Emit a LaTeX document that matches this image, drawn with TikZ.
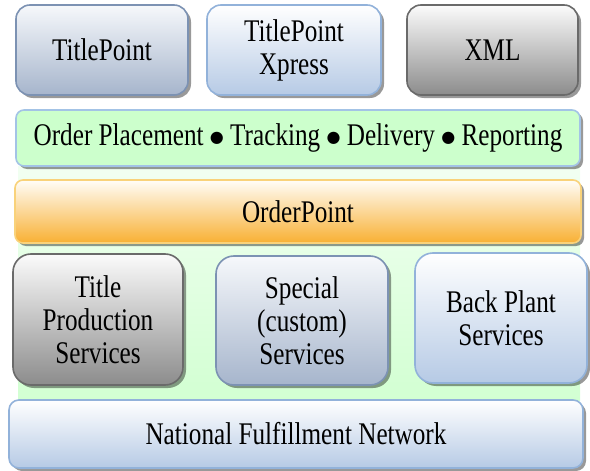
\documentclass[tikz,border=0pt]{standalone}
\usepackage{fontspec}
\setmainfont{Liberation Serif}[FakeStretch=0.8]
\newfontfamily\symf{DejaVu Sans}
\usetikzlibrary{shadows}
\definecolor{bgTop}{HTML}{F2FFF2}
\definecolor{bgBot}{HTML}{D2FFD2}
\definecolor{bgTopB}{HTML}{F6F8FB}
\definecolor{bgBotB}{HTML}{A6B5CC}
\definecolor{brdB}{HTML}{7C92B3}
\definecolor{lbTop}{HTML}{FFFFFF}
\definecolor{lbBot}{HTML}{B6CAE5}
\definecolor{brdL}{HTML}{92B2DA}
\definecolor{gyTop}{HTML}{FBFBFB}
\definecolor{gyBot}{HTML}{8C8C8C}
\definecolor{brdG}{HTML}{6A6A6A}
\definecolor{orTop}{HTML}{FFFDF8}
\definecolor{orBot}{HTML}{F8B033}
\definecolor{brdO}{HTML}{F9D27A}
\definecolor{grFill}{HTML}{CCFFCC}
\definecolor{brdGr}{HTML}{A3C3E6}
\newcommand{\mybul}{{\symf\fontsize{16}{16}\selectfont\raisebox{3pt}{●}}}
\begin{document}
\begin{tikzpicture}[x=1pt,y=-1pt,
  box/.style={draw, line width=1.6pt, rounded corners=14pt, align=center,
    font=\fontsize{31.5}{33}\selectfont, inner sep=0pt,
    drop shadow={shadow xshift=3pt, shadow yshift=-3pt, fill=black, opacity=0.4}},
  bluegray/.style={box, draw=brdB, top color=bgTopB, bottom color=bgBotB},
  lightblue/.style={box, draw=brdL, top color=lbTop, bottom color=lbBot},
  graybox/.style={box, draw=brdG, top color=gyTop, bottom color=gyBot},
  orangebar/.style={box, draw=brdO, top color=orTop, bottom color=orBot, rounded corners=8pt, drop shadow={opacity=0}},
  greenbar/.style={box, draw=brdGr, fill=grFill, rounded corners=8pt, drop shadow={opacity=0}}
]
\useasboundingbox (0,0) rectangle (590,471);
\shade[top color=bgTop, bottom color=bgBot] (18,166) rectangle (580,400);

\node[bluegray, minimum width=172pt, minimum height=90pt] (tp) at (102,50) {TitlePoint};
\node[lightblue, minimum width=174pt, minimum height=90pt] (tpx) at (294,50) {TitlePoint\\Xpress};
\node[graybox, minimum width=171pt, minimum height=90pt] (xml) at (492.5,50) {XML};

\node[greenbar, minimum width=564pt, minimum height=56pt] (ops) at (298,138) {Order Placement \mybul{} Tracking \mybul{} Delivery \mybul{} Reporting};

\node[orangebar, minimum width=566pt, minimum height=63pt] (op) at (298,211.5) {OrderPoint};

\node[graybox, minimum width=170pt, minimum height=131pt, rounded corners=18pt] (tps) at (98,319.5) {Title\\Production\\Services};
\node[bluegray, minimum width=172pt, minimum height=129pt, rounded corners=18pt] (sp) at (302,320.5) {Special\\(custom)\\Services};
\node[lightblue, minimum width=172pt, minimum height=130pt, rounded corners=18pt] (bp) at (501,318) {Back Plant\\Services};

\node[lightblue, minimum width=574pt, minimum height=68pt, rounded corners=10pt] (nfn) at (296,434) {National Fulfillment Network};
\end{tikzpicture}
\end{document}
